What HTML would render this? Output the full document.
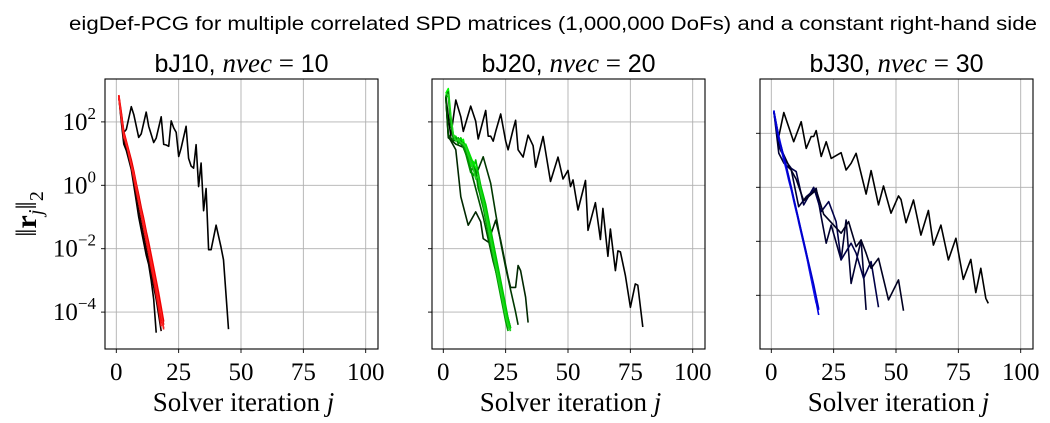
<!DOCTYPE html>
<html><head><meta charset="utf-8"><style>
html,body{margin:0;padding:0;background:#fff}
svg{display:block}
.t{font-family:"Liberation Sans",sans-serif}
.s{font-family:"Liberation Serif",serif}
</style></head><body>
<svg id="c" width="1050" height="423" viewBox="0 0 1050 423" xmlns="http://www.w3.org/2000/svg">
<text class="t" x="553" y="30" font-size="19.5" text-anchor="middle" textLength="968" lengthAdjust="spacingAndGlyphs">eigDef-PCG for multiple correlated SPD matrices (1,000,000 DoFs) and a constant right-hand side</text>
<g id="plots"></g>
</svg>
<script>
// ---- data (log10 of residual norm) ----
const xTicks = [0, 25, 50, 75, 100];
const yTicks = [2, 0, -2, -4];
const panelTitles = ["bJ10", "bJ20", "bJ30"];
const panelNvec = ["10", "20", "30"];

// Panel 1
const p1Slow = [[1,2.81],[3,1.67],[4,1.76],[6,2.48],[7,2.23],[9,1.51],[10,1.62],[12,2.31],[13,1.86],[15,1.35],[16,1.49],[18,2.16],[19,1.29],[20,1.27],[21,1.23],[22,2.03],[23,1.81],[24,1.67],[25,0.91],[26,1.17],[28,1.86],[29,0.85],[30,0.61],[31,0.54],[32,1.28],[33,-0.04],[34,0.7],[35,-0.8],[36,-0.1],[37,-2.03],[38,-2.03],[40,-1.26],[42,-1.95],[43,-2.35],[45,-4.54]];
const p1FastBlack1 = [2.8,2.0,1.3,1.1,0.8,0.5,0.0,-0.5,-1.0,-1.4,-1.8,-2.2,-2.5,-3.0,-3.6,-4.65];
const p1FastBlack2 = [2.8,2.1,1.4,1.2,0.9,0.6,0.1,-0.4,-0.8,-1.2,-1.6,-2.0,-2.4,-2.8,-3.2,-3.6,-4.1,-4.6];
const p1Red1 = [2.85,2.3,1.7,1.4,1.1,0.8,0.45,0.05,-0.3,-0.7,-1.05,-1.45,-1.8,-2.2,-2.6,-3.0,-3.4,-3.85,-4.3];
const p1Red2 = [2.8,2.2,1.55,1.3,1.0,0.7,0.3,-0.1,-0.5,-0.9,-1.3,-1.65,-2.05,-2.45,-2.85,-3.3,-3.7,-4.2,-4.5];
const p1Red3 = [2.8,2.1,1.5,1.35,0.95,0.6,0.2,-0.2,-0.55,-0.95,-1.35,-1.75,-2.15,-2.6,-3.0,-3.45,-3.9,-4.45];
const p1Red4 = [2.75,2.25,1.65,1.25,1.05,0.75,0.4,0.0,-0.35,-0.75,-1.15,-1.5,-1.9,-2.35,-2.75,-3.15,-3.55,-4.0,-4.4];
const p1Red5 = [2.8,2.15,1.6,1.3,1.0,0.65,0.35,-0.05,-0.45,-0.85,-1.2,-1.6,-2.0,-2.4,-2.8,-3.2,-3.65,-4.05,-4.55];

// Panel 2
const p2Slow = [[1,2.8],[3,1.55],[5,2.69],[7,2.16],[8,1.7],[11,2.5],[13,2.02],[14,1.46],[17,2.36],[18,1.55],[19,1.55],[20,1.39],[21,1.7],[23,2.25],[25,1.39],[26,1.12],[28,1.76],[29,2.05],[30,1.12],[32,0.89],[34,1.58],[36,1.25],[37,0.57],[40,1.54],[43,0.12],[46,0.89],[48,0.2],[50,0.47],[51,-0.04],[52,0.17],[54,-0.78],[57,0.15],[58,-1.42],[61,-0.55],[63,-1.71],[64,-0.73],[66,-2.24],[67,-1.38],[69,-2.69],[70,-2.07],[71,-2.1],[73,-2.85],[75,-3.85],[77,-3.11],[78,-3.15],[80,-4.47]];
const p2Dark1 = [[1,2.8],[2,1.55],[5,1.12],[7,-0.36],[10,-1.26],[13,-0.84],[15,-1.15],[16,-1.68],[18,-1.79],[21,-1.1],[23,-1.74],[26,-2.9],[27,-3.22],[29,-3.22],[30,-2.53],[31,-2.69],[33,-3.53],[34,-4.33]];
const p2Dark2 = [[1,2.8],[2,1.5],[5,1.3],[8,1.2],[10,1.0],[13,0.3],[16,0.9],[19,0.06],[21,-0.9],[23,-1.8],[25,-2.6],[27,-3.3],[29,-4.0],[30,-4.4]];
const p2Dark3 = [[1,2.8],[2,1.6],[4,1.4],[6,1.45],[8,1.2],[10,0.8],[12,0.2],[14,-0.4],[16,-1.0],[18,-1.7],[20,-2.4],[22,-3.0],[24,-3.6],[26,-4.2],[27,-4.5]];
const p2Green1 = [2.8,3.0,2.0,1.5,1.45,1.35,1.5,1.3,1.2,1.0,0.7,0.5,0.8,0.4,0.0,-0.3,-0.6,-1.0,-1.4,-1.8,-2.2,-2.6,-3.0,-3.4,-3.8,-4.2,-4.5];
const p2Green2 = [2.9,3.05,2.2,1.6,1.5,1.4,1.35,1.45,1.1,0.9,0.6,0.75,0.55,0.1,-0.2,-0.5,-0.9,-1.3,-1.7,-2.1,-2.5,-2.9,-3.3,-3.7,-4.1,-4.4];
const p2Green3 = [2.8,2.8,1.9,1.6,1.4,1.5,1.3,1.35,1.15,0.8,0.5,0.3,0.5,0.0,-0.4,-0.7,-1.1,-1.5,-1.9,-2.3,-2.7,-3.1,-3.5,-3.9,-4.3,-4.6];
const p2Green4 = [2.85,2.9,2.1,1.55,1.55,1.4,1.45,1.25,1.3,1.1,0.9,0.7,0.3,0.1,-0.1,-0.45,-0.8,-1.2,-1.6,-2.0,-2.4,-2.8,-3.2,-3.6,-4.0,-4.35,-4.55];
const p2Green5 = [2.8,2.95,2.0,1.45,1.5,1.3,1.4,1.2,1.0,0.7,0.4,0.6,0.45,-0.1,-0.35,-0.6,-1.0,-1.4,-1.8,-2.2,-2.6,-3.0,-3.4,-3.8,-4.2,-4.5];
const p2Green6 = [2.9,2.85,2.15,1.6,1.4,1.45,1.35,1.3,1.2,0.95,0.75,0.55,0.2,0.3,-0.25,-0.55,-0.95,-1.35,-1.75,-2.15,-2.55,-2.95,-3.35,-3.75,-4.15,-4.45,-4.6];

// Panel 3
const p3Slow = [[1,2.83],[3,1.88],[5,2.77],[9,1.69],[12,2.43],[14,1.44],[16,1.88],[17,1.88],[18,2.1],[20,1.14],[22,1.69],[24,1.07],[28,1.28],[30,0.64],[32,0.89],[34,1.26],[38,-0.25],[40,0.62],[43,-0.65],[45,0.05],[48,-0.96],[51,-0.32],[52,-0.45],[54,-1.31],[57,-0.47],[60,-1.77],[63,-0.86],[65,-2.14],[68,-1.4],[71,-2.69],[74,-1.89],[77,-3.41],[80,-2.67],[82,-3.9],[84,-3.0],[86,-4.11],[87,-4.3]];
const p3Navy1 = [[1,2.83],[3,1.26],[5,0.9],[8,0.64],[11,-0.72],[14,-0.35],[18,-0.04],[20,-1.09],[22,-2.07],[24,-1.4],[28,-2.69],[30,-1.21],[32,-3.56],[36,-1.95],[38,-4.54]];
const p3Navy2 = [[1,2.83],[3,1.5],[6,0.95],[8,0.7],[10,0.58],[13,-0.65],[17,0.0],[20,-0.9],[23,-0.53],[26,-1.27],[28,-2.69],[32,-2.07],[34,-2.44],[37,-3.37],[40,-2.75],[43,-4.44]];
const p3Navy3 = [[1,2.83],[3,1.6],[7,0.8],[10,0.3],[13,-0.5],[18,-0.1],[21,-1.0],[25,-1.4],[28,-1.7],[31,-1.27],[34,-2.2],[36,-1.95],[38,-2.44],[40,-3.0],[43,-2.63],[47,-4.17],[51,-3.43],[53,-4.57]];
const p3Blue1 = [2.83,2.3,1.9,1.5,1.1,0.75,0.4,0.0,-0.4,-0.8,-1.2,-1.6,-2.0,-2.4,-2.85,-3.25,-3.7,-4.1,-4.55];
const p3Blue2 = [2.8,2.25,1.8,1.45,1.05,0.7,0.3,-0.05,-0.45,-0.85,-1.3,-1.7,-2.1,-2.5,-2.9,-3.35,-3.8,-4.25,-4.73];
const p3Blue3 = [2.85,2.35,1.85,1.4,1.0,0.65,0.25,-0.1,-0.5,-0.9,-1.25,-1.65,-2.05,-2.45,-2.95,-3.4,-3.85,-4.3];
const p3Blue4 = [2.8,2.2,1.75,1.5,1.15,0.8,0.35,-0.02,-0.42,-0.82,-1.22,-1.62,-2.02,-2.42,-2.8,-3.2,-3.6,-4.05,-4.5];

// ---- layout ----
const panels = [
  {left:105, y0:185.3, k:31.7, labels:true,
   series:[[p1Slow,"#000"],[p1FastBlack1,"#000"],[p1FastBlack2,"#200000"],[p1Red1,"#ff0000"],[p1Red2,"#e00000"],[p1Red3,"#f01010"],[p1Red4,"#d00000"],[p1Red5,"#ff2020"]]},
  {left:432, y0:185.3, k:31.7, labels:false,
   series:[[p2Slow,"#000"],[p2Dark1,"#002800"],[p2Dark2,"#003800"],[p2Dark3,"#005000"],[p2Green1,"#00c000"],[p2Green2,"#00ff00"],[p2Green3,"#00a000"],[p2Green4,"#00e000"],[p2Green5,"#008c00"],[p2Green6,"#20d020"]]},
  {left:760, y0:187.3, k:27, labels:false,
   series:[[p3Slow,"#000"],[p3Navy1,"#000030"],[p3Navy2,"#000048"],[p3Navy3,"#000020"],[p3Blue1,"#0000ff"],[p3Blue2,"#0000e0"],[p3Blue3,"#1010f0"],[p3Blue4,"#0000c8"]]}
];
const W = 273, TOP = 79, BOT = 349;
const NS = "http://www.w3.org/2000/svg";
const root = document.getElementById("plots");
function mk(tag, attrs, parent){const e=document.createElementNS(NS,tag);for(const a in attrs)e.setAttribute(a,attrs[a]);(parent||root).appendChild(e);return e;}

panels.forEach((p, pi) => {
  const xs = j => p.left + 11.3 + 2.494 * j;
  const ys = L => p.y0 - p.k * L;
  const g = mk("g", {});
  
  
  xTicks.forEach(t => {
    const l = mk("line", {x1:xs(t), x2:xs(t), y1:TOP, y2:BOT, stroke:"#b0b0b0", "stroke-width":0.9}, g);
    
    
    const tk = mk("line", {x1:xs(t), x2:xs(t), y1:BOT, y2:BOT+4, stroke:"#000", "stroke-width":0.9}, g);
    
    
    const tx = mk("text", {x:xs(t), y:380, "font-size":25, "text-anchor":"middle", class:"s"}, g);
    tx.textContent = t;
    
    
  });
  yTicks.forEach(t => {
    const l = mk("line", {x1:p.left, x2:p.left+W, y1:ys(t), y2:ys(t), stroke:"#b0b0b0", "stroke-width":0.9}, g);
    
    
    const tk = mk("line", {x1:p.left-4, x2:p.left, y1:ys(t), y2:ys(t), stroke:"#000", "stroke-width":0.9}, g);
    
    
    if (p.labels) {
      const tx = mk("text", {x:p.left-9, y:ys(t)+8, "font-size":25, "text-anchor":"end", class:"s"}, g);
      
      
      const a = mk("tspan", {}, tx); a.textContent = "10";
      const b = mk("tspan", {dy:-11, "font-size":17}, tx); b.textContent = t < 0 ? "\u2212" + (-t) : t;
    }
  });
  p.series.forEach(([d, col], si) => {
    const pts = typeof d[0] === "number" ? d.map((v, i) => [i + 1, v]) : d;
    const path = mk("polyline", {points: pts.map(([j, L]) => xs(j).toFixed(1) + "," + ys(L).toFixed(1)).join(" "), fill:"none", stroke:col, "stroke-width":1.6, "stroke-linejoin":"round"}, g);
    
    
  });
  const fr = mk("rect", {x:p.left, y:TOP, width:W, height:BOT-TOP, fill:"none", stroke:"#000", "stroke-width":1.1}, g);
  
  
  const tt = mk("text", {x:p.left + W/2, y:72, "font-size":25, "text-anchor":"middle", class:"t"}, g);
  
  
  const t1 = mk("tspan", {}, tt); t1.textContent = panelTitles[pi] + ", ";
  const t2 = mk("tspan", {class:"s", "font-style":"italic", "font-size":27}, tt); t2.textContent = "nvec";
  const t3 = mk("tspan", {class:"s", "font-size":27}, tt); t3.textContent = " = ";
  const t4 = mk("tspan", {}, tt); t4.textContent = panelNvec[pi];
  const xl = mk("text", {x:p.left + W/2 + 2, y:411, "font-size":27, "text-anchor":"middle", class:"s"}, g);
  
  
  const x1 = mk("tspan", {}, xl); x1.textContent = "Solver iteration ";
  const x2 = mk("tspan", {"font-style":"italic"}, xl); x2.textContent = "j";
});
const yl = mk("text", {transform:"translate(36,214) rotate(-90)", "font-size":30, "text-anchor":"middle", class:"s"});


const y1 = mk("tspan", {}, yl); y1.textContent = "\u2016";
const y2 = mk("tspan", {"font-weight":"bold"}, yl); y2.textContent = "r";
const y3 = mk("tspan", {"font-style":"italic", "font-size":20, dy:6}, yl); y3.textContent = "j";
const y4 = mk("tspan", {dy:-6}, yl); y4.textContent = "\u2016";
const y5 = mk("tspan", {"font-size":20, dy:7}, yl); y5.textContent = "2";
</script>
</body></html>
